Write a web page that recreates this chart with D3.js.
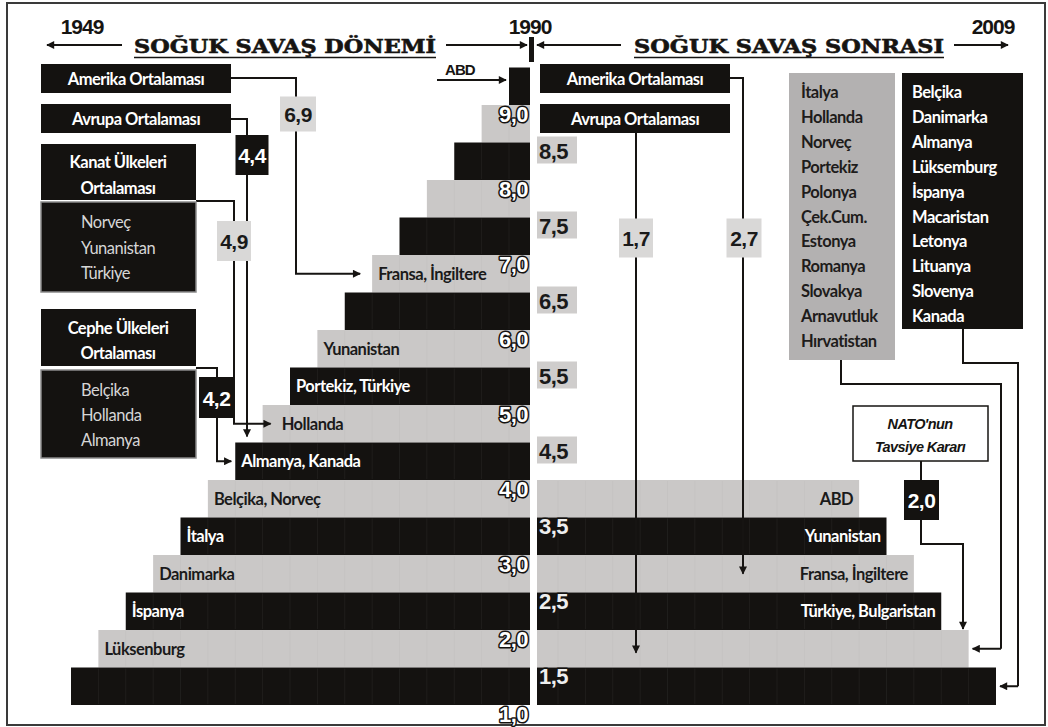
<!DOCTYPE html>
<html>
<head>
<meta charset="utf-8">
<script src="https://cdn.jsdelivr.net/npm/d3@7"></script>
<style>
  body { margin: 0; background: #fff; }
  svg { display: block; }
</style>
</head>
<body>
<svg id="chart" width="1048" height="727"></svg>
<script>
// staircase bars, read top to bottom (value = upper edge of each half-point band)
const leftTops = [9.5, 9.0, 8.5, 8.0, 7.5, 7.0, 6.5, 6.0, 5.5, 5.0, 4.5, 4.0, 3.5, 3.0, 2.5, 2.0, 1.5];
const leftLabels = ["", "", "", "", "", "Fransa, İngiltere", "", "Yunanistan", "Portekiz, Türkiye",
  "Hollanda", "Almanya, Kanada", "Belçika, Norveç", "İtalya", "Danimarka", "İspanya", "Lüksenburg", ""];
const rightTops = [4.0, 3.5, 3.0, 2.5, 2.0, 1.5];
const rightLabels = ["ABD", "Yunanistan", "Fransa, İngiltere", "Türkiye, Bulgaristan", "", ""];

const leftTicks = [9, 8, 7, 6, 5, 4, 3, 2, 1];
const rightTicks = [8.5, 7.5, 6.5, 5.5, 4.5, 3.5, 2.5, 1.5];

// averages (cold war / after)
const coldNames = ["Amerika Ortalaması", "Avrupa Ortalaması", "Kanat Ülkeleri Ortalaması", "Cephe Ülkeleri Ortalaması"];
const coldValues = [6.9, 4.4, 4.9, 4.2];
const postNames = ["Amerika Ortalaması", "Avrupa Ortalaması"];
const postValues = [2.7, 1.7];
const natoValue = 2.0;

const kanatCountries = ["Norveç", "Yunanistan", "Türkiye"];
const cepheCountries = ["Belçika", "Hollanda", "Almanya"];
const greyGroup = ["İtalya", "Hollanda", "Norveç", "Portekiz", "Polonya", "Çek.Cum.", "Estonya",
  "Romanya", "Slovakya", "Arnavutluk", "Hırvatistan"];
const blackGroup = ["Belçika", "Danimarka", "Almanya", "Lüksemburg", "İspanya", "Macaristan",
  "Letonya", "Lituanya", "Slovenya", "Kanada"];
const greyGroupBand = 1.5;   // band these countries fall in
const blackGroupBand = 1.0;

const years = ["1949", "1990", "2009"];
const titles = ["SOĞUK SAVAŞ DÖNEMİ", "SOĞUK SAVAŞ SONRASI"];

const fmt = v => d3.format(".1f")(v).replace(".", ",");

const INK = "#161412", BLACK = "#141210", GREY = "#cac8c7", VALGREY = "#d9d8d7", LISTGREY = "#b3b1b1";
const LBL = "Lato, 'Open Sans', sans-serif";
const NUM = "'Liberation Sans', Arial, sans-serif";

const svg = d3.select("#chart");
const axisL = 530, axisR = 537;

const y = d3.scaleLinear().domain([1, 9.5]).range([705, 67.5]);
const len = d3.scaleLinear().domain([1, 9]).range([459, 21]);   // bar length by lower value
const isBlack = lo => lo % 1 === 0;

const defs = svg.append("defs");
defs.append("marker").attr("id", "arr")
  .attr("viewBox", "0 0 10 10").attr("refX", 9).attr("refY", 5)
  .attr("markerWidth", 9).attr("markerHeight", 8)
  .attr("markerUnits", "userSpaceOnUse").attr("orient", "auto")
  .append("path").attr("d", "M0,0L10,5L0,10z").attr("fill", INK);

// frame
svg.append("rect").attr("x", 7).attr("y", 3).attr("width", 1038).attr("height", 722)
  .attr("fill", "none").attr("stroke", "#3a3a3a").attr("stroke-width", 2);

// ---- bars
const leftData = leftTops.map((t, i) => ({ top: t, lo: t - 0.5, label: leftLabels[i] }));
const rightData = rightTops.map((t, i) => ({ top: t, lo: t - 0.5, label: rightLabels[i] }));

function stepLines(g, d, side) {
  const ks = d3.range(d.lo + 0.5, 9.01, 0.5);
  g.selectAll(null).data(ks).join("line")
    .attr("x1", k => side < 0 ? axisL - len(k) : axisR + len(k))
    .attr("x2", k => side < 0 ? axisL - len(k) : axisR + len(k))
    .attr("y1", y(d.top) + 1).attr("y2", y(d.lo) - 1)
    .attr("stroke", isBlack(d.lo) ? "rgba(255,255,255,0.05)" : "rgba(0,0,0,0.025)");
}

const lg = svg.append("g");
lg.selectAll("g").data(leftData).join("g").each(function (d) {
  const g = d3.select(this);
  g.append("rect")
    .attr("x", axisL - len(d.lo)).attr("y", y(d.top))
    .attr("width", len(d.lo)).attr("height", y(d.lo) - y(d.top))
    .attr("fill", isBlack(d.lo) ? BLACK : GREY);
  stepLines(g, d, -1);
  if (d.label) {
    g.append("text")
      .attr("x", axisL - len(d.lo) + (d.label === "Hollanda" ? 19 : 6))
      .attr("y", y((d.lo + d.top) / 2) + 6)
      .attr("font-family", LBL).attr("font-weight", 700).attr("font-size", 16.5)
      .attr("letter-spacing", -0.5)
      .attr("fill", isBlack(d.lo) ? "#fff" : "#1a1a1a")
      .text(d.label);
  }
});

const rg = svg.append("g");
rg.selectAll("g").data(rightData).join("g").each(function (d) {
  const g = d3.select(this);
  g.append("rect")
    .attr("x", axisR).attr("y", y(d.top))
    .attr("width", len(d.lo)).attr("height", y(d.lo) - y(d.top))
    .attr("fill", isBlack(d.lo) ? BLACK : GREY);
  stepLines(g, d, 1);
  if (d.label) {
    g.append("text")
      .attr("x", axisR + len(d.lo) - 6)
      .attr("y", y((d.lo + d.top) / 2) + 6)
      .attr("text-anchor", "end")
      .attr("font-family", LBL).attr("font-weight", 700).attr("font-size", 16.5)
      .attr("letter-spacing", -0.5)
      .attr("fill", isBlack(d.lo) ? "#fff" : "#1a1a1a")
      .text(d.label);
  }
});

// ---- tick labels
svg.append("g").selectAll("text").data(leftTicks).join("text")
  .attr("x", axisL - 2).attr("y", t => y(t) + 17)
  .attr("text-anchor", "end")
  .attr("font-family", NUM).attr("font-weight", 700).attr("font-size", 22)
  .attr("letter-spacing", -0.5)
  .attr("fill", "#fff").attr("stroke", BLACK).attr("stroke-width", 3)
  .attr("paint-order", "stroke").attr("stroke-linejoin", "round")
  .text(fmt);

const rt = svg.append("g").selectAll("g").data(rightTicks).join("g");
rt.filter(t => t > 4).append("rect")
  .attr("x", axisR).attr("y", t => y(t) - 6).attr("width", 40).attr("height", 27)
  .attr("fill", "#cfcdcc");
rt.append("text")
  .attr("x", axisR + 2).attr("y", t => y(t) + 16)
  .attr("font-family", NUM).attr("font-weight", 700).attr("font-size", 22)
  .attr("letter-spacing", -0.5)
  .attr("fill", t => t > 4 ? "#1a1a1a" : "#eee")
  .attr("stroke", t => t > 4 ? "none" : BLACK).attr("stroke-width", 3)
  .attr("paint-order", "stroke").attr("stroke-linejoin", "round")
  .text(fmt);

// ---- header
const head = svg.append("g");
function arrow(pts, g) {
  (g || svg).append("path").attr("d", d3.line()(pts))
    .attr("fill", "none").attr("stroke", INK).attr("stroke-width", 2)
    .attr("marker-end", "url(#arr)");
}
function plain(pts, g) {
  (g || svg).append("path").attr("d", d3.line()(pts))
    .attr("fill", "none").attr("stroke", INK).attr("stroke-width", 2);
}
const yearX = [82, 530, 993];
head.selectAll("text.yr").data(years).join("text").attr("class", "yr")
  .attr("x", (d, i) => yearX[i]).attr("y", 34).attr("text-anchor", "middle")
  .attr("font-family", NUM).attr("font-weight", 700).attr("font-size", 21)
  .attr("letter-spacing", -1).attr("fill", INK).text(d => d);

const titleX = [[134, 436], [634, 944]];
head.selectAll("text.tt").data(titles).join("text").attr("class", "tt")
  .attr("x", (d, i) => titleX[i][0]).attr("y", 53)
  .attr("textLength", (d, i) => titleX[i][1] - titleX[i][0]).attr("lengthAdjust", "spacingAndGlyphs")
  .attr("font-family", "'DejaVu Serif', serif").attr("font-weight", 700).attr("font-size", 19)
  .attr("fill", INK).attr("stroke", INK).attr("stroke-width", 0.6).text(d => d);
titleX.forEach(([a, b]) => plain([[a, 57.5], [b, 57.5]], head));
head.selectAll("path").attr("stroke-width", 1.5);

arrow([[122, 45], [47, 45]], head);
arrow([[446, 45], [527, 45]], head);
arrow([[621, 45], [537, 45]], head);
arrow([[954, 45], [1008, 45]], head);
head.append("rect").attr("x", 529).attr("y", 37).attr("width", 5).attr("height", 25).attr("fill", INK);

// ---- helpers for boxes
function box(x, yy, w, h, fill, stroke) {
  svg.append("rect").attr("x", x).attr("y", yy).attr("width", w).attr("height", h)
    .attr("fill", fill).attr("stroke", stroke || "none").attr("stroke-width", 1.5);
}
function txt(x, yy, s, opt) {
  opt = opt || {};
  svg.append("text").attr("x", x).attr("y", yy)
    .attr("text-anchor", opt.anchor || "start")
    .attr("font-family", opt.family || LBL).attr("font-weight", opt.weight || 700)
    .attr("font-style", opt.style || "normal")
    .attr("font-size", opt.size || 16.5).attr("letter-spacing", opt.ls == null ? -0.5 : opt.ls)
    .attr("fill", opt.fill || "#fff").text(s);
}
function valBox(cx, cy, w, h, v, dark) {
  box(cx - w / 2, cy - h / 2, w, h, dark ? BLACK : VALGREY);
  txt(cx, cy + 8, fmt(v), { anchor: "middle", family: NUM, size: 21, ls: -0.5, fill: dark ? "#fff" : "#1a1a1a" });
}
const mid = v => { const lo = Math.floor(v * 2) / 2; return y(lo + 0.25); };
const topOf = v => { const lo = Math.floor(v * 2) / 2; return y(lo + 0.5); };
const leftEdge = v => axisL - len(Math.floor(v * 2) / 2);
const rightEdge = v => axisR + len(Math.floor(v * 2) / 2);

// ---- left side annotations
// ABD pointer
txt(445, 75, "ABD", { family: NUM, size: 15, ls: -0.9, fill: INK });
arrow([[437, 80], [axisL - len(9) - 3, 80]]);

// connectors first (under boxes)
arrow([[231, 78], [296, 78], [296, mid(coldValues[0])], [leftEdge(coldValues[0]) - 12, mid(coldValues[0])]]);
arrow([[231, 119], [247, 119], [247, topOf(coldValues[1]) - 6]]);
arrow([[196, 201], [234, 201], [234, mid(coldValues[2])], [leftEdge(coldValues[2]) + 8, mid(coldValues[2])]]);
arrow([[196, 368], [217, 368], [217, mid(coldValues[3])], [leftEdge(coldValues[3]) - 4, mid(coldValues[3])]]);

box(41, 64, 190, 29, BLACK);
txt(136, 85, coldNames[0], { anchor: "middle" });
box(41, 104, 190, 29, BLACK);
txt(136, 125, coldNames[1], { anchor: "middle" });

// Kanat
box(41, 144, 155, 56, BLACK);
txt(118, 168, "Kanat Ülkeleri", { anchor: "middle" });
txt(118, 194, "Ortalaması", { anchor: "middle" });
box(41, 202, 155, 90, BLACK, "#8a8a8a");
kanatCountries.forEach((c, i) => txt(81, 228 + i * 25.5, c, { weight: 400, fill: "#d6d6d6" }));

// Cephe
box(41, 309, 155, 57, BLACK);
txt(118, 334, "Cephe Ülkeleri", { anchor: "middle" });
txt(118, 359, "Ortalaması", { anchor: "middle" });
box(41, 370, 155, 88, BLACK, "#8a8a8a");
cepheCountries.forEach((c, i) => txt(81, 396 + i * 25, c, { weight: 400, fill: "#d6d6d6" }));

valBox(298, 114, 36, 35, coldValues[0], false);
valBox(252, 155, 33, 40, coldValues[1], true);
valBox(234, 241, 34, 40, coldValues[2], false);
valBox(216.5, 397.5, 35, 41, coldValues[3], true);

// ---- right side annotations
arrow([[730, 78], [743, 78], [743, mid(postValues[0])]]);
arrow([[636, 133], [636, mid(postValues[1]) + 4]]);
plain([[841, 359], [841, 384], [1001, 384], [1001, mid(greyGroupBand)]]);
arrow([[1001, mid(greyGroupBand)], [rightEdge(greyGroupBand) + 4, mid(greyGroupBand)]]);
plain([[963, 329], [963, 363], [1018, 363], [1018, mid(blackGroupBand)]]);
arrow([[1018, mid(blackGroupBand)], [rightEdge(blackGroupBand) + 4, mid(blackGroupBand)]]);
plain([[921, 461], [921, 480]]);
arrow([[921, 520], [921, 544], [963, 544], [963, topOf(natoValue - 0.01) - 1]]);

box(540, 64, 190, 29, BLACK);
txt(635, 85, postNames[0], { anchor: "middle" });
box(540, 104, 190, 29, BLACK);
txt(635, 125, postNames[1], { anchor: "middle" });

valBox(744, 238, 35, 39, postValues[0], false);
valBox(636, 238, 34, 39, postValues[1], false);

box(789, 73, 106, 287, LISTGREY);
greyGroup.forEach((c, i) => txt(801, 98 + i * 24.9, c, { fill: "#1e1c1b", weight: 700 }));
box(902, 73, 121, 256, BLACK);
blackGroup.forEach((c, i) => txt(912, 98 + i * 24.9, c, { fill: "#fff", weight: 700 }));

box(853, 406, 135, 55, "#fff", INK);
txt(920, 429, "NATO'nun", { anchor: "middle", style: "italic", family: NUM, size: 14.5, ls: -0.6, fill: INK });
txt(920, 452, "Tavsiye Kararı", { anchor: "middle", style: "italic", family: NUM, size: 14.5, ls: -0.6, fill: INK });
valBox(921.5, 500, 35, 40, natoValue, true);
</script>
</body>
</html>
